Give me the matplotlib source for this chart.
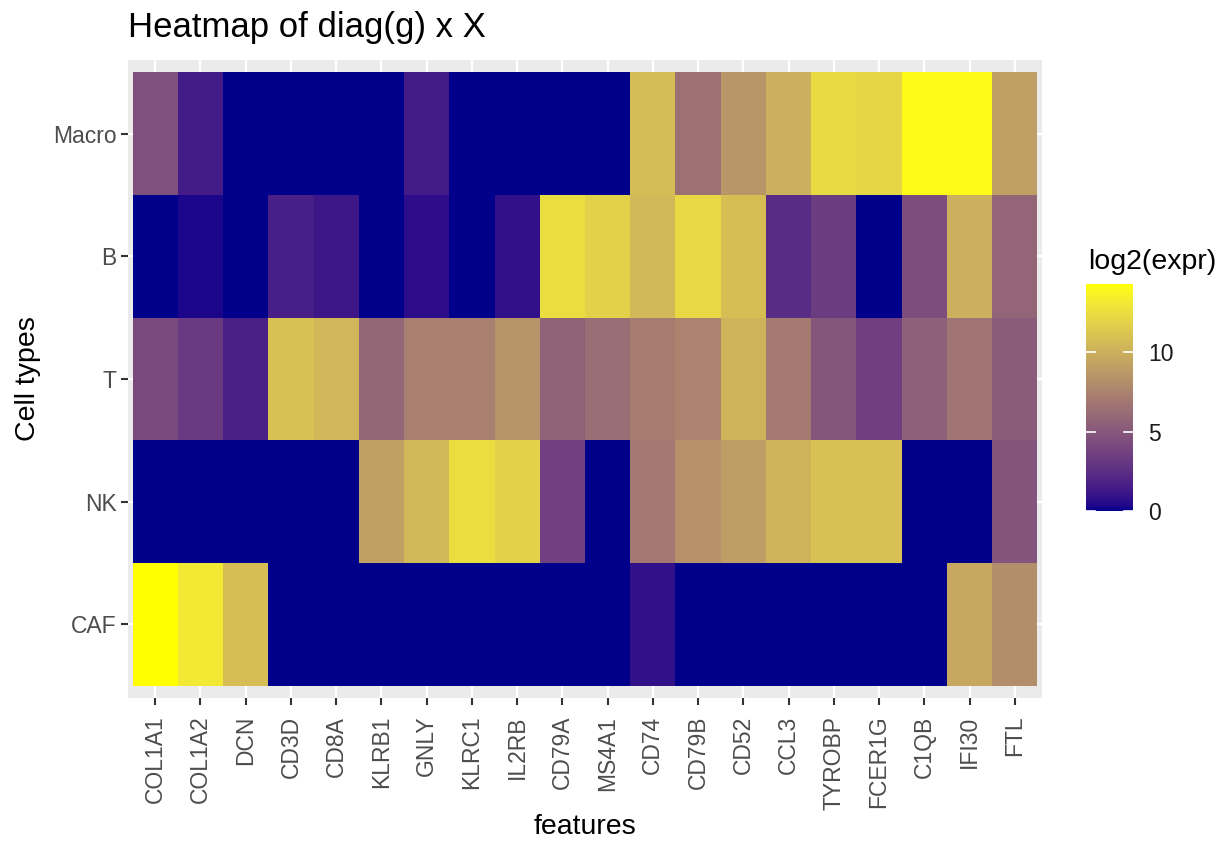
import numpy as np
import matplotlib
matplotlib.use("Agg")
import matplotlib.pyplot as plt
from matplotlib.colors import ListedColormap

plt.rcParams['font.family'] = ['Liberation Sans', 'DejaVu Sans']

# data
features = ["COL1A1", "COL1A2", "DCN", "CD3D", "CD8A", "KLRB1", "GNLY", "KLRC1",
            "IL2RB", "CD79A", "MS4A1", "CD74", "CD79B", "CD52", "CCL3", "TYROBP",
            "FCER1G", "C1QB", "IFI30", "FTL"]
cell_types = ["CAF", "NK", "T", "B", "Macro"]   # bottom to top

macro = [4.5, 1.4, 0, 0, 0, 0, 1.4, 0, 0, 0, 0, 10.7, 6.5, 8.6, 10.0, 12.3, 12.1, 14.0, 14.0, 9.1]
b_cells = [0, 0.3, 0, 1.6, 1.2, 0, 0.7, 0, 0.8, 12.5, 11.8, 10.5, 12.2, 10.8, 2.3, 3.4, 0, 4.4, 10.0, 5.8]
t_cells = [4.1, 3.2, 1.7, 11.0, 10.4, 5.9, 7.3, 7.3, 8.4, 5.6, 6.3, 7.1, 7.5, 10.2, 7.0, 4.9, 3.5, 5.5, 6.7, 5.3]
nk = [0, 0, 0, 0, 0, 9.2, 10.5, 12.5, 11.8, 3.6, 0, 6.9, 8.3, 9.0, 10.2, 10.9, 10.9, 0, 0, 4.8]
caf = [14.3, 13.1, 10.8, 0, 0, 0, 0, 0, 0, 0, 0, 0.8, 0, 0, 0, 0, 0, 0, 9.6, 8.1]

values = np.array([caf, nk, t_cells, b_cells, macro])


# ggplot-like gradient darkblue -> yellow in CIELAB
def srgb_to_lab(rgb):
    rgb = np.asarray(rgb, float)
    lin = np.where(rgb <= 0.04045, rgb / 12.92, ((rgb + 0.055) / 1.055) ** 2.4)
    m = np.array([[0.4124, 0.3576, 0.1805],
                  [0.2126, 0.7152, 0.0722],
                  [0.0193, 0.1192, 0.9505]])
    xyz = m @ lin / np.array([0.95047, 1.0, 1.08883])
    f = np.where(xyz > 0.008856, np.cbrt(xyz), 7.787 * xyz + 16 / 116)
    return np.array([116 * f[1] - 16, 500 * (f[0] - f[1]), 200 * (f[1] - f[2])])


def lab_to_srgb(lab):
    L, a, bb = lab
    fy = (L + 16) / 116
    fx = fy + a / 500
    fz = fy - bb / 200
    f = np.array([fx, fy, fz])
    xyz = np.where(f ** 3 > 0.008856, f ** 3, (f - 16 / 116) / 7.787)
    xyz = xyz * np.array([0.95047, 1.0, 1.08883])
    minv = np.array([[3.2406, -1.5372, -0.4986],
                     [-0.9689, 1.8758, 0.0415],
                     [0.0557, -0.2040, 1.0570]])
    lin = minv @ xyz
    rgb = np.where(lin <= 0.0031308, 12.92 * lin, 1.055 * np.clip(lin, 0, None) ** (1 / 2.4) - 0.055)
    return np.clip(rgb, 0, 1)


lo = srgb_to_lab([0, 0, 139 / 255])
hi = srgb_to_lab([1, 1, 0])
cols = [lab_to_srgb(lo + (hi - lo) * t) for t in np.linspace(0, 1, 256)]
cmap = ListedColormap(cols)

vmax = 14.3
W, H = 1225, 841
fig = plt.figure(figsize=(W / 100, H / 100), dpi=100)

ax = fig.add_axes([128 / W, 1 - 698 / H, 914 / W, 638 / H])
ax.set_facecolor('#EBEBEB')
nx, ny = len(features), len(cell_types)
ax.set_xlim(0.4, nx + 0.6)
ax.set_ylim(0.4, ny + 0.6)
for x in range(1, nx + 1):
    ax.axvline(x, color='white', lw=1.6, zorder=0)
for y in range(1, ny + 1):
    ax.axhline(y, color='white', lw=1.6, zorder=0)

xe = np.arange(nx + 1) + 0.5
ye = np.arange(ny + 1) + 0.5
mesh = ax.pcolormesh(xe, ye, values, cmap=cmap, vmin=0, vmax=vmax, zorder=1)

ax.set_xticks(range(1, nx + 1))
ax.set_xticklabels(features, rotation=90, fontsize=16.5, color='#4D4D4D')
ax.set_yticks(range(1, ny + 1))
ax.set_yticklabels(cell_types, fontsize=16.5, color='#4D4D4D')
ax.tick_params(length=5.2, width=1.5, color='#333333', pad=3)
ax.tick_params(axis='x', pad=7.5)
for s in ax.spines.values():
    s.set_visible(False)

fig.text(585 / W, 1 - 827 / H, 'features', fontsize=20.5, va='center', ha='center')
fig.text(28 / W, 1 - 379 / H, 'Cell types', fontsize=20.5, va='center', ha='center', rotation=90)
fig.text(128 / W, 1 - 28 / H, 'Heatmap of diag(g) x X', fontsize=25, va='center', ha='left')

# colorbar
cax = fig.add_axes([1086 / W, 1 - 511 / H, 47 / W, 227 / H])
cb = fig.colorbar(mesh, cax=cax)
cb.outline.set_visible(False)
cb.set_ticks([0, 5, 10])
cb.ax.tick_params(length=0, labelsize=16.5, pad=11, labelcolor='#1A1A1A')
for t in [0, 5, 10]:
    cax.plot([0, 0.2], [t, t], transform=cax.get_yaxis_transform(), color='white', lw=1.2)
    cax.plot([0.8, 1.0], [t, t], transform=cax.get_yaxis_transform(), color='white', lw=1.2)
fig.text(1088 / W, 1 - 262 / H, 'log2(expr)', fontsize=20.5, va='center', ha='left')

fig.savefig('out.png', dpi=100)
